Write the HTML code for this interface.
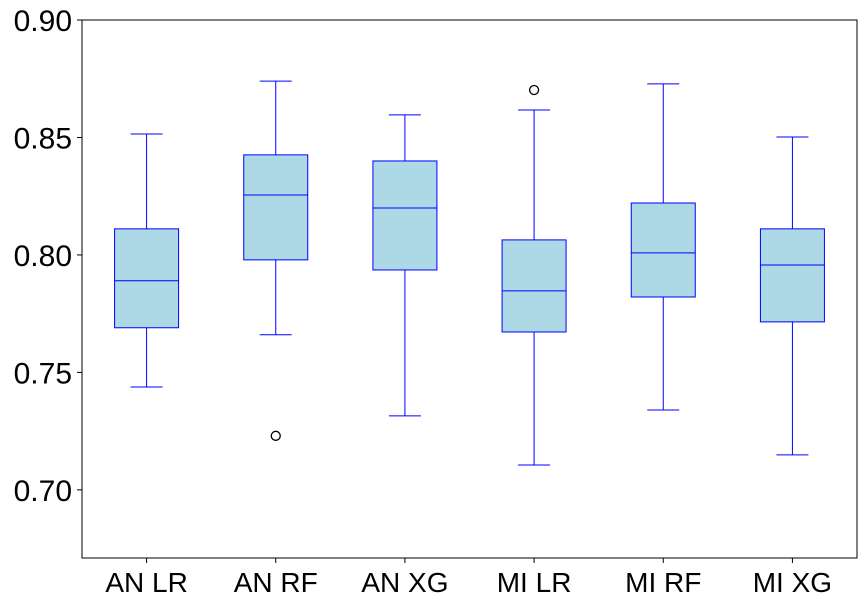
<!DOCTYPE html>
<html><head><meta charset="utf-8"><style>
body{margin:0;background:#fff;}
svg text{font-family:"Liberation Sans",sans-serif;font-size:28px;fill:#000;}
svg text.ylab{font-size:30px;}
</style></head><body>
<svg id="chart" width="866" height="607"></svg>
<script>
const categories=["AN LR","AN RF","AN XG","MI LR","MI RF","MI XG"];
const whiskerLow=[0.7438,0.766,0.7315,0.7106,0.734,0.7149];
const q1=[0.769,0.7979,0.7936,0.7672,0.7821,0.7715];
const medians=[0.789,0.8255,0.820,0.7847,0.8009,0.7957];
const q3=[0.8111,0.8426,0.840,0.8064,0.8221,0.8111];
const whiskerHigh=[0.8515,0.874,0.8596,0.8617,0.8728,0.8502];
const outliers=[[],[0.723],[],[0.8702],[],[]];
const yTicks=[0.70,0.75,0.80,0.85,0.90];
const yTickLabels=["0.70","0.75","0.80","0.85","0.90"];

const L=82,R=857,T=20,B=558,yMin=0.671,yMax=0.90;
const ns="http://www.w3.org/2000/svg";
const svg=document.getElementById('chart');
const y=v=>T+(yMax-v)/(yMax-yMin)*(B-T);
const x=i=>L+(i+0.5)*(R-L)/categories.length;
function mk(tag,attrs,parent){const e=document.createElementNS(ns,tag);for(const k in attrs)e.setAttribute(k,attrs[k]);(parent||svg).appendChild(e);return e;}

const frame=mk('rect',{x:L,y:T,width:R-L,height:B-T,fill:'none',stroke:'#000','stroke-width':1,'shape-rendering':'crispEdges'});



yTicks.forEach((t,i)=>{
  const tk=mk('line',{x1:L-5,x2:L,y1:y(t),y2:y(t),stroke:'#000'});
  
  
  const lb=mk('text',{x:L-10,y:y(t)+11,'text-anchor':'end','class':'ylab'});
  lb.textContent=yTickLabels[i];
  
  
});

const bw=64,cw=32;
categories.forEach((c,i)=>{
  const cx=x(i);
  const g=mk('g',{});
  
  
  mk('line',{x1:cx,x2:cx,y1:y(whiskerHigh[i]),y2:y(q3[i]),stroke:'#00f'},g);
  mk('line',{x1:cx,x2:cx,y1:y(q1[i]),y2:y(whiskerLow[i]),stroke:'#00f'},g);
  mk('line',{x1:cx-cw/2,x2:cx+cw/2,y1:y(whiskerHigh[i]),y2:y(whiskerHigh[i]),stroke:'#00f'},g);
  mk('line',{x1:cx-cw/2,x2:cx+cw/2,y1:y(whiskerLow[i]),y2:y(whiskerLow[i]),stroke:'#00f'},g);
  mk('rect',{x:cx-bw/2,y:y(q3[i]),width:bw,height:y(q1[i])-y(q3[i]),fill:'#add8e6',stroke:'#00f'},g);
  mk('line',{x1:cx-bw/2,x2:cx+bw/2,y1:y(medians[i]),y2:y(medians[i]),stroke:'#00f'},g);
  outliers[i].forEach(o=>{
    const oc=mk('circle',{cx:cx,cy:y(o),r:4.5,fill:'none',stroke:'#000','stroke-width':1.3},g);
    
    
  });
  const tk=mk('line',{x1:cx,x2:cx,y1:B,y2:B+5,stroke:'#000'});
  
  
  const lb=mk('text',{x:cx,y:B+34,'text-anchor':'middle'});
  lb.textContent=c;
  
  
});
</script>
</body></html>
